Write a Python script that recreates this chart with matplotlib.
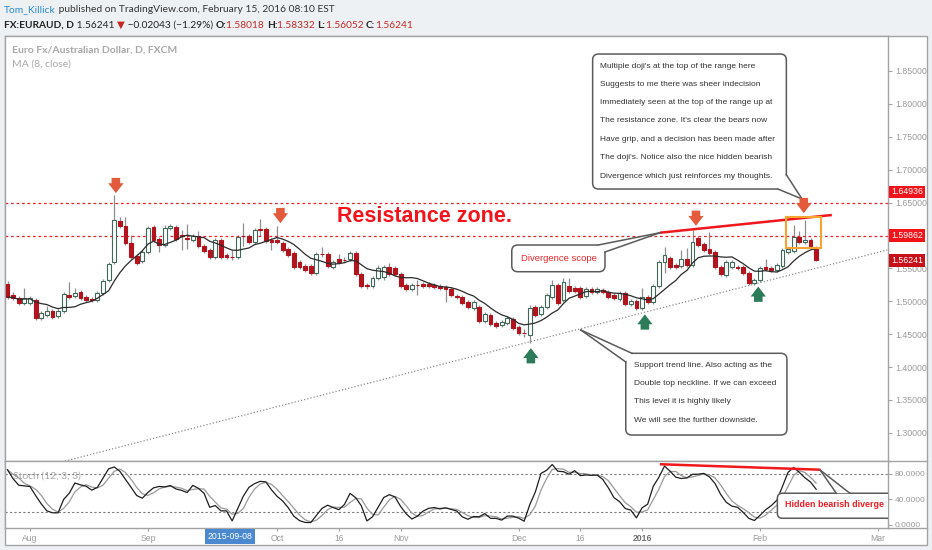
import numpy as np
import pandas as pd
import matplotlib
matplotlib.use("Agg")
import matplotlib.pyplot as plt
from matplotlib.patches import FancyBboxPatch, Polygon, Rectangle
from matplotlib.lines import Line2D
from matplotlib.path import Path
from matplotlib.transforms import IdentityTransform, blended_transform_factory

plt.rcParams["font.family"] = ["Liberation Sans", "DejaVu Sans"]

# ---------------- data (EURAUD daily) ----------------
first_bar = -4  # bar index of the first visible candle (0 = 3 Aug 2015)

opens = [1.5262, 1.5095, 1.5049, 1.4973, 1.4973, 1.5019, 1.4745, 1.4791, 1.4852, 1.4776,
         1.4852, 1.5095, 1.5080, 1.5141, 1.5065, 1.5034, 1.5019, 1.5125, 1.5323, 1.5597,
         1.6220, 1.6144, 1.5885, 1.5688, 1.5612, 1.5749, 1.6129, 1.5946, 1.5855, 1.6113,
         1.6129, 1.6007, 1.5961, 1.5931, 1.5992, 1.5840, 1.5779, 1.5673, 1.5931, 1.5703,
         1.5673, 1.5673, 1.5992, 1.5992, 1.5901, 1.6098, 1.6098, 1.5931, 1.5931, 1.5885,
         1.5794, 1.5733, 1.5597, 1.5536, 1.5536, 1.5429, 1.5718, 1.5718, 1.5521, 1.5642,
         1.5627, 1.5642, 1.5733, 1.5414, 1.5247, 1.5232, 1.5353, 1.5369, 1.5521, 1.5505,
         1.5414, 1.5247, 1.5186, 1.5247, 1.5262, 1.5262, 1.5247, 1.5232, 1.5217, 1.5186,
         1.5080, 1.5065, 1.4989, 1.4897, 1.4913, 1.4700, 1.4791, 1.4669, 1.4639, 1.4669,
         1.4730, 1.4609, 1.4517, 1.4487, 1.4913, 1.4806, 1.4913, 1.5065, 1.5247, 1.5019,
         1.5232, 1.5201, 1.5201, 1.5080, 1.5186, 1.5141, 1.5171, 1.5141, 1.5095, 1.5034,
         1.5125, 1.4958, 1.5004, 1.4897, 1.5065, 1.4989, 1.5232, 1.5597, 1.5657, 1.5551,
         1.5536, 1.5642, 1.5551, 1.5961, 1.5870, 1.5794, 1.5749, 1.5521, 1.5399, 1.5521,
         1.5521, 1.5521, 1.5429, 1.5277, 1.5323, 1.5521, 1.5505, 1.5475, 1.5536, 1.5749,
         1.5764, 1.5977, 1.5901, 1.5931, 1.58018]

highs = [1.5308, 1.5141, 1.5080, 1.5201, 1.5080, 1.5049, 1.4852, 1.4928, 1.4882, 1.4882,
         1.5141, 1.5293, 1.5201, 1.5171, 1.5095, 1.5065, 1.5156, 1.5338, 1.5597, 1.6615,
         1.6281, 1.6281, 1.6007, 1.5718, 1.5779, 1.6144, 1.6159, 1.5977, 1.6159, 1.6174,
         1.6159, 1.6083, 1.6174, 1.6022, 1.6068, 1.5870, 1.5809, 1.5961, 1.5961, 1.5733,
         1.5779, 1.6007, 1.6189, 1.6022, 1.6113, 1.6250, 1.6129, 1.5961, 1.6144, 1.5916,
         1.5825, 1.5764, 1.5627, 1.5566, 1.5566, 1.5749, 1.5825, 1.5749, 1.5627, 1.5718,
         1.5673, 1.5764, 1.5764, 1.5445, 1.5277, 1.5384, 1.5551, 1.5551, 1.5581, 1.5536,
         1.5445, 1.5277, 1.5277, 1.5323, 1.5293, 1.5293, 1.5277, 1.5262, 1.5247, 1.5217,
         1.5110, 1.5095, 1.5019, 1.5019, 1.4943, 1.4837, 1.4821, 1.4700, 1.4715, 1.4776,
         1.4761, 1.4639, 1.4578, 1.4943, 1.4943, 1.4943, 1.5125, 1.5323, 1.5277, 1.5353,
         1.5353, 1.5232, 1.5232, 1.5217, 1.5217, 1.5217, 1.5201, 1.5171, 1.5125, 1.5156,
         1.5156, 1.5034, 1.5034, 1.5201, 1.5095, 1.5262, 1.5627, 1.5825, 1.5688, 1.5581,
         1.5779, 1.5809, 1.6083, 1.5992, 1.5901, 1.6053, 1.5779, 1.5551, 1.5627, 1.5627,
         1.5551, 1.5551, 1.5460, 1.5353, 1.5536, 1.5642, 1.5536, 1.5581, 1.5809, 1.5825,
         1.6159, 1.6068, 1.6235, 1.5961, 1.58332]

lows = [1.5034, 1.5019, 1.4943, 1.4943, 1.4943, 1.4715, 1.4715, 1.4761, 1.4730, 1.4745,
        1.4821, 1.5034, 1.5049, 1.5019, 1.4989, 1.4989, 1.4989, 1.5095, 1.5293, 1.5566,
        1.6113, 1.5855, 1.5642, 1.5551, 1.5581, 1.5718, 1.5901, 1.5749, 1.5825, 1.6083,
        1.5916, 1.5779, 1.5794, 1.5901, 1.5809, 1.5733, 1.5642, 1.5642, 1.5642, 1.5642,
        1.5627, 1.5642, 1.5840, 1.5870, 1.5870, 1.5992, 1.5885, 1.5779, 1.5870, 1.5749,
        1.5673, 1.5490, 1.5490, 1.5445, 1.5399, 1.5399, 1.5673, 1.5505, 1.5490, 1.5566,
        1.5597, 1.5612, 1.5384, 1.5201, 1.5186, 1.5201, 1.5323, 1.5323, 1.5384, 1.5384,
        1.5201, 1.5156, 1.5156, 1.5095, 1.5201, 1.5201, 1.5186, 1.5171, 1.4989, 1.5065,
        1.5034, 1.4943, 1.4882, 1.4867, 1.4669, 1.4669, 1.4624, 1.4593, 1.4609, 1.4639,
        1.4563, 1.4487, 1.4457, 1.4365, 1.4761, 1.4776, 1.4882, 1.5034, 1.4943, 1.4989,
        1.5125, 1.5125, 1.5034, 1.5049, 1.5110, 1.5110, 1.5110, 1.5034, 1.5019, 1.5004,
        1.4928, 1.4928, 1.4867, 1.4867, 1.4958, 1.4958, 1.5201, 1.5429, 1.5490, 1.5490,
        1.5505, 1.5521, 1.5521, 1.5825, 1.5749, 1.5703, 1.5490, 1.5384, 1.5369, 1.5490,
        1.5475, 1.5399, 1.5247, 1.5247, 1.5293, 1.5460, 1.5445, 1.5445, 1.5505, 1.5718,
        1.5733, 1.5870, 1.5870, 1.5809, 1.56052]

closes = [1.5065, 1.5049, 1.4973, 1.5049, 1.5049, 1.4745, 1.4821, 1.4852, 1.4761, 1.4852,
          1.5110, 1.5065, 1.5125, 1.5049, 1.5019, 1.5019, 1.5125, 1.5308, 1.5566, 1.6235,
          1.6144, 1.5885, 1.5673, 1.5581, 1.5749, 1.6113, 1.5931, 1.5855, 1.6113, 1.6144,
          1.5946, 1.5992, 1.5946, 1.5992, 1.5840, 1.5764, 1.5673, 1.5931, 1.5673, 1.5673,
          1.5668, 1.5977, 1.5985, 1.5901, 1.6083, 1.6090, 1.5916, 1.5901, 1.5901, 1.5779,
          1.5703, 1.5521, 1.5521, 1.5475, 1.5429, 1.5718, 1.5711, 1.5536, 1.5597, 1.5597,
          1.5620, 1.5733, 1.5414, 1.5232, 1.5232, 1.5353, 1.5505, 1.5521, 1.5414, 1.5414,
          1.5232, 1.5186, 1.5247, 1.5240, 1.5232, 1.5232, 1.5217, 1.5201, 1.5186, 1.5095,
          1.5065, 1.4973, 1.4913, 1.4989, 1.4700, 1.4806, 1.4654, 1.4624, 1.4685, 1.4745,
          1.4593, 1.4517, 1.4510, 1.4897, 1.4791, 1.4913, 1.5095, 1.5247, 1.4973, 1.5293,
          1.5156, 1.5156, 1.5065, 1.5186, 1.5141, 1.5186, 1.5141, 1.5065, 1.5049, 1.5125,
          1.4958, 1.5004, 1.4897, 1.5065, 1.4989, 1.5232, 1.5597, 1.5703, 1.5521, 1.5521,
          1.5642, 1.5551, 1.5901, 1.5855, 1.5779, 1.5733, 1.5521, 1.5414, 1.5597, 1.5597,
          1.5505, 1.5429, 1.5277, 1.5323, 1.5505, 1.5490, 1.5475, 1.5551, 1.5779, 1.5794,
          1.5977, 1.5901, 1.5931, 1.5840, 1.56241]

# %K of the stochastic for the first bars (its look-back lies left of the picture)
stoch_k_first_bars = [86, 72, 62, 61, 60, 46, 33, 22, 19, 19, 40]

date_tick_bars = [0, 21, 44, 55, 66, 87, 98, 109, 130, 151]
date_tick_labels = ["Aug", "Sep", "Oct", "16", "Nov", "Dec", "16", "2016", "Feb", "Mar"]
cursor_bar = 35.6
cursor_label = "2015-09-08"

price_ticks = [1.30, 1.35, 1.40, 1.45, 1.50, 1.55, 1.60, 1.65, 1.70, 1.75, 1.80, 1.85]
hidden_price_ticks = [1.60]          # covered by the 1.59862 tag in the picture
stoch_ticks = [0, 40, 80]
stoch_tick_labels = ["0.0000", "40.0000", "80.0000"]
stoch_bands = [20, 80]

resistance_levels = [1.64936, 1.59862]
resistance_tag_offsets = [11, 1]      # label shift in px (label sits above the first line)
last_price = 1.56241
ma_len = 8
stoch_len, stoch_k_smooth, stoch_d_smooth = 12, 3, 3

support_line_bars = [6.2, 152.7]
support_line_prices = [1.257, 1.578]
div_line_bars = [112.2, 142.8]
div_line_prices = [1.6042, 1.6311]
stoch_div_bars = [112.4, 140.5]
stoch_div_values = [94.7, 86.3]
down_arrow_bars = [15.3, 44.6, 118.6, 137.8]
down_arrow_prices = [1.6759, 1.6303, 1.6262, 1.6455]
up_arrow_bars = [89.2, 109.5, 129.7]
up_arrow_prices = [1.4172, 1.4685, 1.5107]
doji_box_bars = [134.6, 140.8]
doji_box_prices = [1.5810, 1.6280]

note_lines = ["Multiple doji's at the top of the range here",
              "Suggests to me there was sheer indecision",
              "Immediately seen at the top of the range up at",
              "The resistance zone. It's clear the bears now",
              "Have grip, and a decision has been made after",
              "The doji's. Notice also the nice hidden bearish",
              "Divergence which just reinforces my thoughts."]
support_lines = ["Support trend line. Also acting as the",
                 "Double top neckline. If we can exceed",
                 "This level it is highly likely",
                 "We will see the further downside."]

# ---------------- figure ----------------
W, H = 932, 550
fig = plt.figure(figsize=(W / 100, H / 100), dpi=100)
fig.patch.set_facecolor("#eef1f4")
renderer = fig.canvas.get_renderer()


def fx(px):
    return px / W


def fy(py):
    return 1.0 - py / H


GRAY = "#a3a3a3"
fig.add_artist(Rectangle((fx(5), fy(545)), fx(927) - fx(5), fy(36) - fy(545),
                         transform=fig.transFigure, facecolor="white",
                         edgecolor=GRAY, linewidth=1.0, zorder=-1))
for yy in (461, 528):
    fig.add_artist(Line2D([fx(888), fx(927)], [fy(yy), fy(yy)], transform=fig.transFigure,
                          color=GRAY, linewidth=1.0))

ax = fig.add_axes([fx(5), fy(461), fx(888) - fx(5), fy(36) - fy(461)])
axs = fig.add_axes([fx(5), fy(528), fx(888) - fx(5), fy(461) - fy(528)])
XLIM = (-4.45, 152.8)
for a in (ax, axs):
    a.set_xlim(*XLIM)
    a.set_facecolor("white")
    for s in a.spines.values():
        s.set_color(GRAY)
        s.set_linewidth(1.0)
ax.set_ylim(1.2572, 1.9032)
axs.set_ylim(-4.7, 99.8)

o = np.array(opens)
h = np.array(highs)
l = np.array(lows)
c = np.array(closes)
x = np.arange(first_bar, first_bar + len(c))
up = c >= o
body_top = np.maximum(o, c)
body_bot = np.minimum(o, c)

# wicks
ax.vlines(x, body_top, h, color="#8f8f8f", linewidth=0.9, zorder=2)
ax.vlines(x, l, body_bot, color="#8f8f8f", linewidth=0.9, zorder=2)
# bodies
ax.bar(x[up], (c - o)[up], bottom=o[up], width=0.68, facecolor="white",
       edgecolor="#3e6a5a", linewidth=0.8, zorder=3)
ax.bar(x[~up], (c - o)[~up], bottom=o[~up], width=0.68, facecolor="#b3131c",
       edgecolor="#b3131c", linewidth=0.8, zorder=3)

# moving average
ma = pd.Series(c).rolling(ma_len, min_periods=1).mean()
ax.plot(x, ma, color="#2b2b2b", linewidth=0.9, zorder=4)

# resistance lines
for lvl in resistance_levels:
    ax.axhline(lvl, color="#e8202a", linewidth=0.9, linestyle=(0, (2.2, 2.2)), zorder=2)

# support trend line
ax.plot(support_line_bars, support_line_prices, color="#8a8a8a", linewidth=0.9,
        linestyle=(0, (1, 1.6)), zorder=2)

# divergence line on price
ax.plot(div_line_bars, div_line_prices, color="#f0181c", linewidth=1.8, zorder=6,
        solid_capstyle="butt")

# doji box
ax.add_patch(Rectangle((doji_box_bars[0], doji_box_prices[0]),
                       doji_box_bars[1] - doji_box_bars[0],
                       doji_box_prices[1] - doji_box_prices[0],
                       fill=False, edgecolor="#f7a330", linewidth=1.5, zorder=6))

# arrows
down_path = Path([(-0.28, 0.5), (0.28, 0.5), (0.28, 0.15), (0.5, 0.15), (0, -0.5),
                  (-0.5, 0.15), (-0.28, 0.15), (-0.28, 0.5)],
                 [Path.MOVETO] + [Path.LINETO] * 6 + [Path.CLOSEPOLY])
up_path = Path([(vx, -vy) for vx, vy in down_path.vertices], down_path.codes)
ax.scatter(down_arrow_bars, down_arrow_prices, marker=down_path, s=11 ** 2,
           color="#e45a3d", edgecolors="none", zorder=9)
ax.scatter(up_arrow_bars, up_arrow_prices, marker=up_path, s=11 ** 2,
           color="#2c7c59", edgecolors="none", zorder=9, clip_on=False)

# Resistance zone text
ax.text(54.7, 1.6296, "Resistance zone.", color="#f2141a", fontsize=15.5,
        fontweight="bold", va="center", ha="left", zorder=7)


# ---------- callouts ----------
def callout(a, x0, y0, x1, y1, apex, b1, b2, r=6):
    T = a.transData
    p0 = T.transform((x0, y0))
    p1 = T.transform((x1, y1))
    box = FancyBboxPatch(tuple(p0), p1[0] - p0[0], p1[1] - p0[1],
                         boxstyle="round,pad=0,rounding_size=%d" % r,
                         transform=IdentityTransform(), facecolor="white",
                         edgecolor="#5a5a5a", linewidth=1.1, zorder=6)
    a.add_patch(box)
    pa = T.transform(apex)
    q1 = T.transform(b1)
    q2 = T.transform(b2)
    poly = Polygon([pa, q1, q2], closed=True, transform=IdentityTransform(),
                   facecolor="white", edgecolor="none", zorder=6.5)
    a.add_patch(poly)
    for q in (q1, q2):
        ln = Line2D([pa[0], q[0]], [pa[1], q[1]], transform=IdentityTransform(),
                    color="#5a5a5a", linewidth=1.1, zorder=7)
        a.add_line(ln)


callout(ax, 85.8, 1.5449, 102.4, 1.5855, (112.2, 1.6042), (101.2, 1.5855), (102.4, 1.5749))
ax.text(87.4, 1.5652, "Divergence scope", color="#e8262a", fontsize=6.8, va="center",
        ha="left", zorder=8)

callout(ax, 100.2, 1.6706, 134.7, 1.8758, (137.5, 1.6554), (133.2, 1.6706), (134.7, 1.6922))
for txt, yy in zip(note_lines, [1.8576, 1.8298, 1.8018, 1.7740, 1.7462, 1.7182, 1.6904]):
    ax.text(101.6, yy, txt, color="#333333", fontsize=6.0, va="center", ha="left", zorder=8)

callout(ax, 106.1, 1.2967, 134.8, 1.4209, (98.1, 1.4563), (107.2, 1.4209), (106.1, 1.4077))
for txt, yy in zip(support_lines, [1.4020, 1.3747, 1.3469, 1.3195]):
    ax.text(107.6, yy, txt, color="#333333", fontsize=6.0, va="center", ha="left", zorder=8)

# ---------- axes ticks ----------
ax.yaxis.tick_right()
ax.set_yticks(price_ticks)
ax.set_yticklabels(["" if any(abs(v - hv) < 1e-9 for hv in hidden_price_ticks)
                    else "%.5f" % v for v in price_ticks])
ax.tick_params(axis="y", direction="out", length=3, width=0.8, color=GRAY,
               labelcolor="#9a9a9a", labelsize=6.3, pad=2)
ax.tick_params(axis="x", bottom=False, labelbottom=False)

# price tags on the scale
for lvl, off in zip(resistance_levels, resistance_tag_offsets):
    ax.annotate("%.5f" % lvl, xy=(1, lvl), xycoords=("axes fraction", "data"),
                xytext=(2.2, off * 0.72), textcoords="offset points", color="white",
                fontsize=6.3, va="center", ha="left", annotation_clip=False, zorder=10,
                bbox=dict(boxstyle="square,pad=0.22", facecolor="#f2141a", edgecolor="none"))
ax.annotate("%.5f" % last_price, xy=(1, last_price), xycoords=("axes fraction", "data"),
            xytext=(2.2, 0), textcoords="offset points", color="white",
            fontsize=6.3, va="center", ha="left", annotation_clip=False, zorder=10,
            bbox=dict(boxstyle="square,pad=0.22", facecolor="#c8101a", edgecolor="none"))

# pane titles
ax.text(0.008, 0.967, "Euro Fx/Australian Dollar, D, FXCM", transform=ax.transAxes,
        color="#a8a8a8", fontsize=7.5, fontweight="bold", family=["Lato", "DejaVu Sans"],
        va="center", ha="left")
ax.text(0.008, 0.934, "MA (8, close)", transform=ax.transAxes, color="#a8a8a8",
        fontsize=7.5, family=["Lato", "DejaVu Sans"], va="center", ha="left")

# ---------- stochastic ----------
hs, ls_, cs = pd.Series(h), pd.Series(l), pd.Series(c)
hh = hs.rolling(stoch_len, min_periods=1).max()
ll = ls_.rolling(stoch_len, min_periods=1).min()
raw = 100 * (cs - ll) / (hh - ll)
k = raw.rolling(stoch_k_smooth, min_periods=1).mean()
k.iloc[:len(stoch_k_first_bars)] = stoch_k_first_bars
d = k.rolling(stoch_d_smooth, min_periods=1).mean()

for b in stoch_bands:
    axs.axhline(b, color="#7a7a7a", linewidth=0.8, linestyle=(0, (2, 2)), zorder=1)
axs.plot(x, d, color="#9a9a9a", linewidth=0.9, zorder=3)
axs.plot(x, k, color="#1e1e1e", linewidth=0.9, zorder=4)
axs.plot(stoch_div_bars, stoch_div_values, color="#f0181c", linewidth=1.8, zorder=6)

callout(axs, 133.1, 10.5, 162.0, 49.5, (140.7, 85.8), (143.6, 49.5), (146.0, 49.5), r=5)
axs.text(134.4, 31.2, "Hidden bearish diverge", color="#ee1c24", fontsize=6.4,
         fontweight="bold", va="center", ha="left", zorder=8)
axs.text(0.009, 0.78, "Stoch (12, 3, 3)", transform=axs.transAxes, color="#a8a8a8",
         fontsize=7.5, family=["Lato", "DejaVu Sans"], va="center", ha="left", zorder=2)

axs.yaxis.tick_right()
axs.set_yticks(stoch_ticks)
axs.set_yticklabels(stoch_tick_labels)
axs.tick_params(axis="y", direction="out", length=3, width=0.8, color=GRAY,
                labelcolor="#9a9a9a", labelsize=6.0, pad=2)
axs.set_xticks(date_tick_bars)
axs.set_xticklabels(date_tick_labels)
axs.tick_params(axis="x", direction="out", length=2.5, width=0.8, color=GRAY,
                labelcolor="#9a9a9a", labelsize=6.2, pad=1.5)
for t in axs.get_xticklabels():
    if t.get_text() == "2016":
        t.set_color("#707070")
        t.set_fontweight("bold")
axs.text(cursor_bar, -0.127, cursor_label,
         transform=blended_transform_factory(axs.transData, axs.transAxes),
         color="white", fontsize=6.3, ha="center", va="center", zorder=10, clip_on=False,
         bbox=dict(boxstyle="square,pad=0.3", facecolor="#4a89d0", edgecolor="none"))


# ---------- header ----------
def text_width(s, size, weight):
    t1 = fig.text(0, 0, "|" + s + "|", fontsize=size, fontweight=weight,
                  family=["Lato", "DejaVu Sans"])
    t2 = fig.text(0, 0, "||", fontsize=size, fontweight=weight,
                  family=["Lato", "DejaVu Sans"])
    w = t1.get_window_extent(renderer).width - t2.get_window_extent(renderer).width
    t1.remove()
    t2.remove()
    return w


def header_runs(x0, y0, target_w, parts, base=8.0):
    total = sum(text_width(s, base, wt) for s, col, wt in parts)
    size = base * target_w / total
    xx = x0
    for s, col, wt in parts:
        fig.text(fx(xx), fy(y0), s, color=col, fontsize=size, fontweight=wt,
                 family=["Lato", "DejaVu Sans"], va="center", ha="left")
        xx += text_width(s, size, wt)


RED = "#c62828"
header_runs(4, 9.5, 333, [("Tom_Killick", "#2a8bd2", "normal"),
                          (" published on TradingView.com, February 15, 2016 08:10 EST",
                           "#333333", "normal")])
header_runs(4, 25.5, 408, [("FX:EURAUD, D", "#222222", "bold"),
                           (" 1.56241 ", "#222222", "normal"),
                           ("\u25bc", RED, "normal"),
                           (" \u22120.02043 (\u22121.29%) ", "#222222", "normal"),
                           ("O:", "#222222", "bold"), ("1.58018 ", RED, "normal"),
                           ("H:", "#222222", "bold"), ("1.58332 ", RED, "normal"),
                           ("L:", "#222222", "bold"), ("1.56052 ", RED, "normal"),
                           ("C:", "#222222", "bold"), ("1.56241", RED, "normal")])

fig.savefig("out.png", dpi=100, facecolor=fig.get_facecolor())
